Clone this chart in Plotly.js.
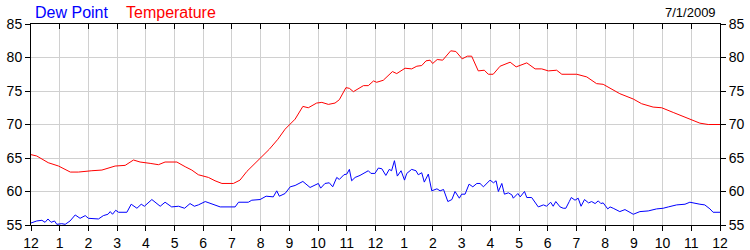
<!DOCTYPE html>
<html>
<head>
<meta charset="utf-8">
<script src="https://cdn.plot.ly/plotly-3.0.1.min.js"></script>
<style>html,body{margin:0;padding:0;background:#fff;}#chart{width:750px;height:250px;}</style>
</head>
<body>
<div id="chart"></div>
<script>
const hourTickVals = [0,1,2,3,4,5,6,7,8,9,10,11,12,13,14,15,16,17,18,19,20,21,22,23,24];
const hourTickText = ["12","1","2","3","4","5","6","7","8","9","10","11","12","1","2","3","4","5","6","7","8","9","10","11","12"];
const yTickVals = [55,60,65,70,75,80,85];

const tempHours = [0,0.2,0.6,0.96,1.37,1.65,2.12,2.47,2.93,3.28,3.57,3.8,4.15,4.44,4.67,5.08,5.37,5.6,5.83,6.18,6.41,6.65,7.05,7.28,7.52,7.8,8.0,8.3,8.6,8.85,9.2,9.47,9.66,9.95,10.13,10.36,10.59,10.74,10.97,11.09,11.23,11.58,11.75,11.93,12.04,12.27,12.59,12.74,13.03,13.26,13.44,13.61,13.76,13.9,13.99,14.15,14.34,14.62,14.8,15.02,15.2,15.35,15.58,15.79,15.93,16.1,16.34,16.69,16.9,17.27,17.56,17.79,18.02,18.31,18.49,19.01,19.36,19.7,19.93,20.51,20.98,21.27,21.67,21.97,22.37,22.67,22.95,23.3,23.59,24];
const temperature = [65.5,65.3,64.3,63.8,62.9,62.9,63.1,63.2,63.8,63.9,64.7,64.4,64.2,64.0,64.4,64.4,63.7,63.2,62.5,62.1,61.6,61.2,61.2,61.7,63.0,64.2,65.1,66.3,67.8,69.3,70.8,72.7,72.5,73.2,73.3,73.0,73.2,73.7,75.5,75.4,74.9,75.8,75.8,76.5,76.3,76.6,77.9,77.6,78.4,78.3,78.7,78.8,79.5,79.6,79.1,79.7,79.6,81.0,80.9,79.8,80.2,80.2,78.0,78.1,77.5,77.5,78.7,79.3,78.6,79.2,78.3,78.3,78.0,78.1,77.5,77.5,77.1,76.1,76.0,74.6,73.8,73.1,72.6,72.5,71.8,71.3,70.9,70.2,70.0,70.0];

const dewHours = [0,0.2,0.38,0.49,0.59,0.7,0.82,0.9,1.07,1.19,1.36,1.54,1.71,1.89,2.0,2.18,2.35,2.52,2.68,2.76,2.84,2.95,3.05,3.34,3.49,3.69,3.84,3.95,4.21,4.5,4.67,4.9,5.14,5.35,5.54,5.69,5.83,6.07,6.3,6.59,7.11,7.23,7.57,7.69,7.98,8.19,8.44,8.56,8.65,8.85,9.03,9.2,9.47,9.72,10.01,10.09,10.24,10.39,10.51,10.65,10.74,10.9,11.0,11.09,11.17,11.29,11.46,11.75,11.84,11.98,12.1,12.22,12.36,12.48,12.56,12.66,12.76,12.89,13.01,13.09,13.26,13.41,13.49,13.61,13.7,13.84,13.96,14.14,14.25,14.37,14.52,14.66,14.77,14.92,15.0,15.12,15.26,15.39,15.53,15.64,15.76,15.99,16.11,16.2,16.28,16.4,16.49,16.63,16.75,16.8,16.96,17.04,17.19,17.27,17.44,17.67,17.85,17.96,18.1,18.19,18.28,18.43,18.54,18.63,18.75,18.82,18.95,19.06,19.16,19.28,19.42,19.53,19.65,19.76,19.85,19.93,20.09,20.17,20.28,20.51,20.69,20.84,20.98,21.21,21.5,21.79,22.02,22.2,22.49,22.78,22.95,23.3,23.47,23.65,23.76,24];
const dewPoint = [55.3,55.6,55.7,55.4,55.9,55.4,55.6,55.1,55.2,55.1,55.6,56.5,56.0,56.4,56.0,55.9,55.9,56.4,56.6,57.0,56.6,57.2,56.9,56.9,58.1,57.5,58.1,57.8,58.8,57.8,58.4,57.7,57.8,57.5,58.2,57.8,58.0,58.5,58.1,57.7,57.7,58.4,58.4,58.7,58.8,59.3,59.2,60.1,59.3,59.7,60.7,60.9,61.5,60.6,61.2,60.5,61.2,61.3,60.7,62.1,61.8,62.5,62.6,63.3,61.6,62.1,62.4,63.1,62.7,62.7,63.5,63.4,62.4,63.3,63.1,64.6,62.3,63.1,61.7,62.7,63.3,63.1,62.5,62.8,61.4,62.6,60.1,60.4,60.1,60.3,58.5,58.8,60.0,59.0,59.6,59.6,61.1,60.7,61.2,61.2,60.7,61.7,61.3,61.6,60.0,61.2,59.6,59.8,59.5,59.0,59.7,59.2,60.0,59.1,59.1,57.7,58.0,57.8,58.4,57.8,58.5,57.7,57.5,57.5,58.5,59.1,58.7,59.0,57.8,58.8,58.3,58.5,58.2,58.6,58.2,58.3,57.4,57.7,57.5,57.0,57.3,57.0,56.6,57.0,57.1,57.4,57.5,57.7,58.0,58.1,58.4,58.1,58.0,57.4,56.9,56.9];

const FONT = "Liberation Sans, Arial, sans-serif";

const traces = [
  {x: tempHours, y: temperature, type: 'scatter', mode: 'lines', name: 'Temperature',
   line: {color: '#ff0000', width: 1}, xaxis: 'x', yaxis: 'y', hoverinfo: 'skip'},
  {x: dewHours, y: dewPoint, type: 'scatter', mode: 'lines', name: 'Dew Point',
   line: {color: '#0000ff', width: 1}, xaxis: 'x2', yaxis: 'y2', hoverinfo: 'skip'}
];

const axisCommon = {
  showline: true, linecolor: '#000', linewidth: 1, zeroline: false,
  tickcolor: '#000', ticklen: 5, tickwidth: 1,
  tickfont: {family: FONT, size: 14, color: '#000'}
};

const layout = {
  width: 750, height: 250,
  margin: {l: 31, r: 30, t: 24, b: 25, pad: 0},
  paper_bgcolor: '#fff', plot_bgcolor: '#fff',
  showlegend: false,
  xaxis: Object.assign({}, axisCommon, {
    range: [0, 24], tickmode: 'array', tickvals: hourTickVals, ticktext: hourTickText,
    ticks: 'outside', showgrid: true, gridcolor: '#d0d0d0', gridwidth: 1
  }),
  xaxis2: Object.assign({}, axisCommon, {
    range: [0, 24], tickmode: 'array', tickvals: hourTickVals,
    overlaying: 'x', side: 'top', anchor: 'y', ticks: 'inside', showticklabels: false, showgrid: false
  }),
  yaxis: Object.assign({}, axisCommon, {
    range: [55, 85], tickmode: 'array', tickvals: yTickVals,
    ticks: 'outside', showgrid: true, gridcolor: '#d0d0d0', gridwidth: 1
  }),
  yaxis2: Object.assign({}, axisCommon, {
    range: [55, 85], tickmode: 'array', tickvals: yTickVals,
    overlaying: 'y', side: 'right', anchor: 'x', ticks: 'outside', showgrid: false
  }),
  annotations: [
    {text: 'Dew Point', xref: 'paper', yref: 'paper', x: 0.003, y: 1.055, xanchor: 'left', yanchor: 'middle',
     showarrow: false, font: {family: FONT, size: 16, color: '#0000ff'}},
    {text: 'Temperature', xref: 'paper', yref: 'paper', x: 0.135, y: 1.055, xanchor: 'left', yanchor: 'middle',
     showarrow: false, font: {family: FONT, size: 16, color: '#ff0000'}},
    {text: '7/1/2009', xref: 'paper', yref: 'paper', x: 0.997, y: 1.055, xanchor: 'right', yanchor: 'middle',
     showarrow: false, font: {family: FONT, size: 13, color: '#000'}}
  ]
};

Plotly.newPlot('chart', traces, layout, {displayModeBar: false, staticPlot: true});
</script>
</body>
</html>
